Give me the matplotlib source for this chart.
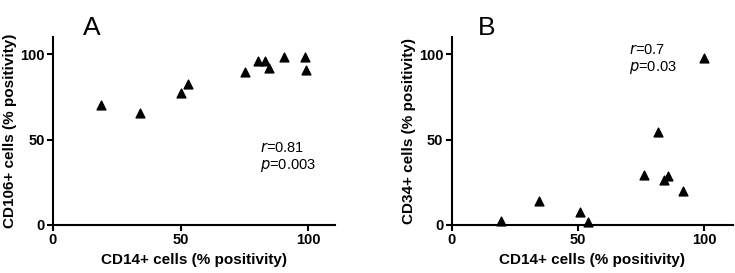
import matplotlib
matplotlib.use("Agg")
from matplotlib import pyplot as plt

plt.rcParams['font.family'] = ['Liberation Sans', 'DejaVu Sans']

# panel A: CD14+ vs CD106+
a_x = [19.0, 34.1, 50.1, 53.1, 75.3, 80.4, 83.0, 84.7, 90.5, 98.7, 99.2]
a_y = [70.2, 65.3, 77.0, 82.5, 89.7, 95.9, 95.9, 92.2, 98.1, 98.1, 90.6]

# panel B: CD14+ vs CD34+
b_x = [19.3, 34.6, 50.7, 53.8, 76.1, 81.5, 84.0, 85.6, 91.7, 99.9]
b_y = [2.3, 14.2, 7.4, 1.6, 29.2, 54.2, 26.1, 28.8, 19.9, 97.5]

ticks = [0, 50, 100]

fig = plt.figure(figsize=(7.35, 2.73), dpi=100)
ax1 = fig.add_axes([0.0721, 0.176, 0.384, 0.688])
ax2 = fig.add_axes([0.6146, 0.176, 0.383, 0.688])


def style(ax, xmax, ylabel):
    ax.set_xlim(0, xmax)
    ax.set_ylim(0, 110)
    ax.set_xticks(ticks)
    ax.set_yticks(ticks)
    for s in ['top', 'right']:
        ax.spines[s].set_visible(False)
    for s in ['left', 'bottom']:
        ax.spines[s].set_linewidth(1.5)
    ax.tick_params(direction='out', length=4, width=1.5, labelsize=10.5, pad=2)
    for lab in ax.get_xticklabels() + ax.get_yticklabels():
        lab.set_fontweight('bold')
    ax.set_xlabel("CD14+ cells (% positivity)", fontsize=11, fontweight='bold', labelpad=4)
    ax.set_ylabel(ylabel, fontsize=11, fontweight='bold', labelpad=2)


ax1.scatter(a_x, a_y, marker='^', s=40, color='black', clip_on=False, zorder=3)
style(ax1, 110.6, "CD106+ cells (% positivity)")
ax1.text(81, 43, r"$\it{r}$=0.81", fontsize=10.5)
ax1.text(81, 33, r"$\it{p}$=0.003", fontsize=10.5)

ax2.scatter(b_x, b_y, marker='^', s=40, color='black', clip_on=False, zorder=3)
style(ax2, 111.4, "CD34+ cells (% positivity)")
ax2.text(70, 100, r"$\it{r}$=0.7", fontsize=10.5)
ax2.text(70, 90, r"$\it{p}$=0.03", fontsize=10.5)

fig.text(0.113, 0.87, "A", fontsize=19)
fig.text(0.650, 0.87, "B", fontsize=19)

fig.savefig("out.png", dpi=100)
